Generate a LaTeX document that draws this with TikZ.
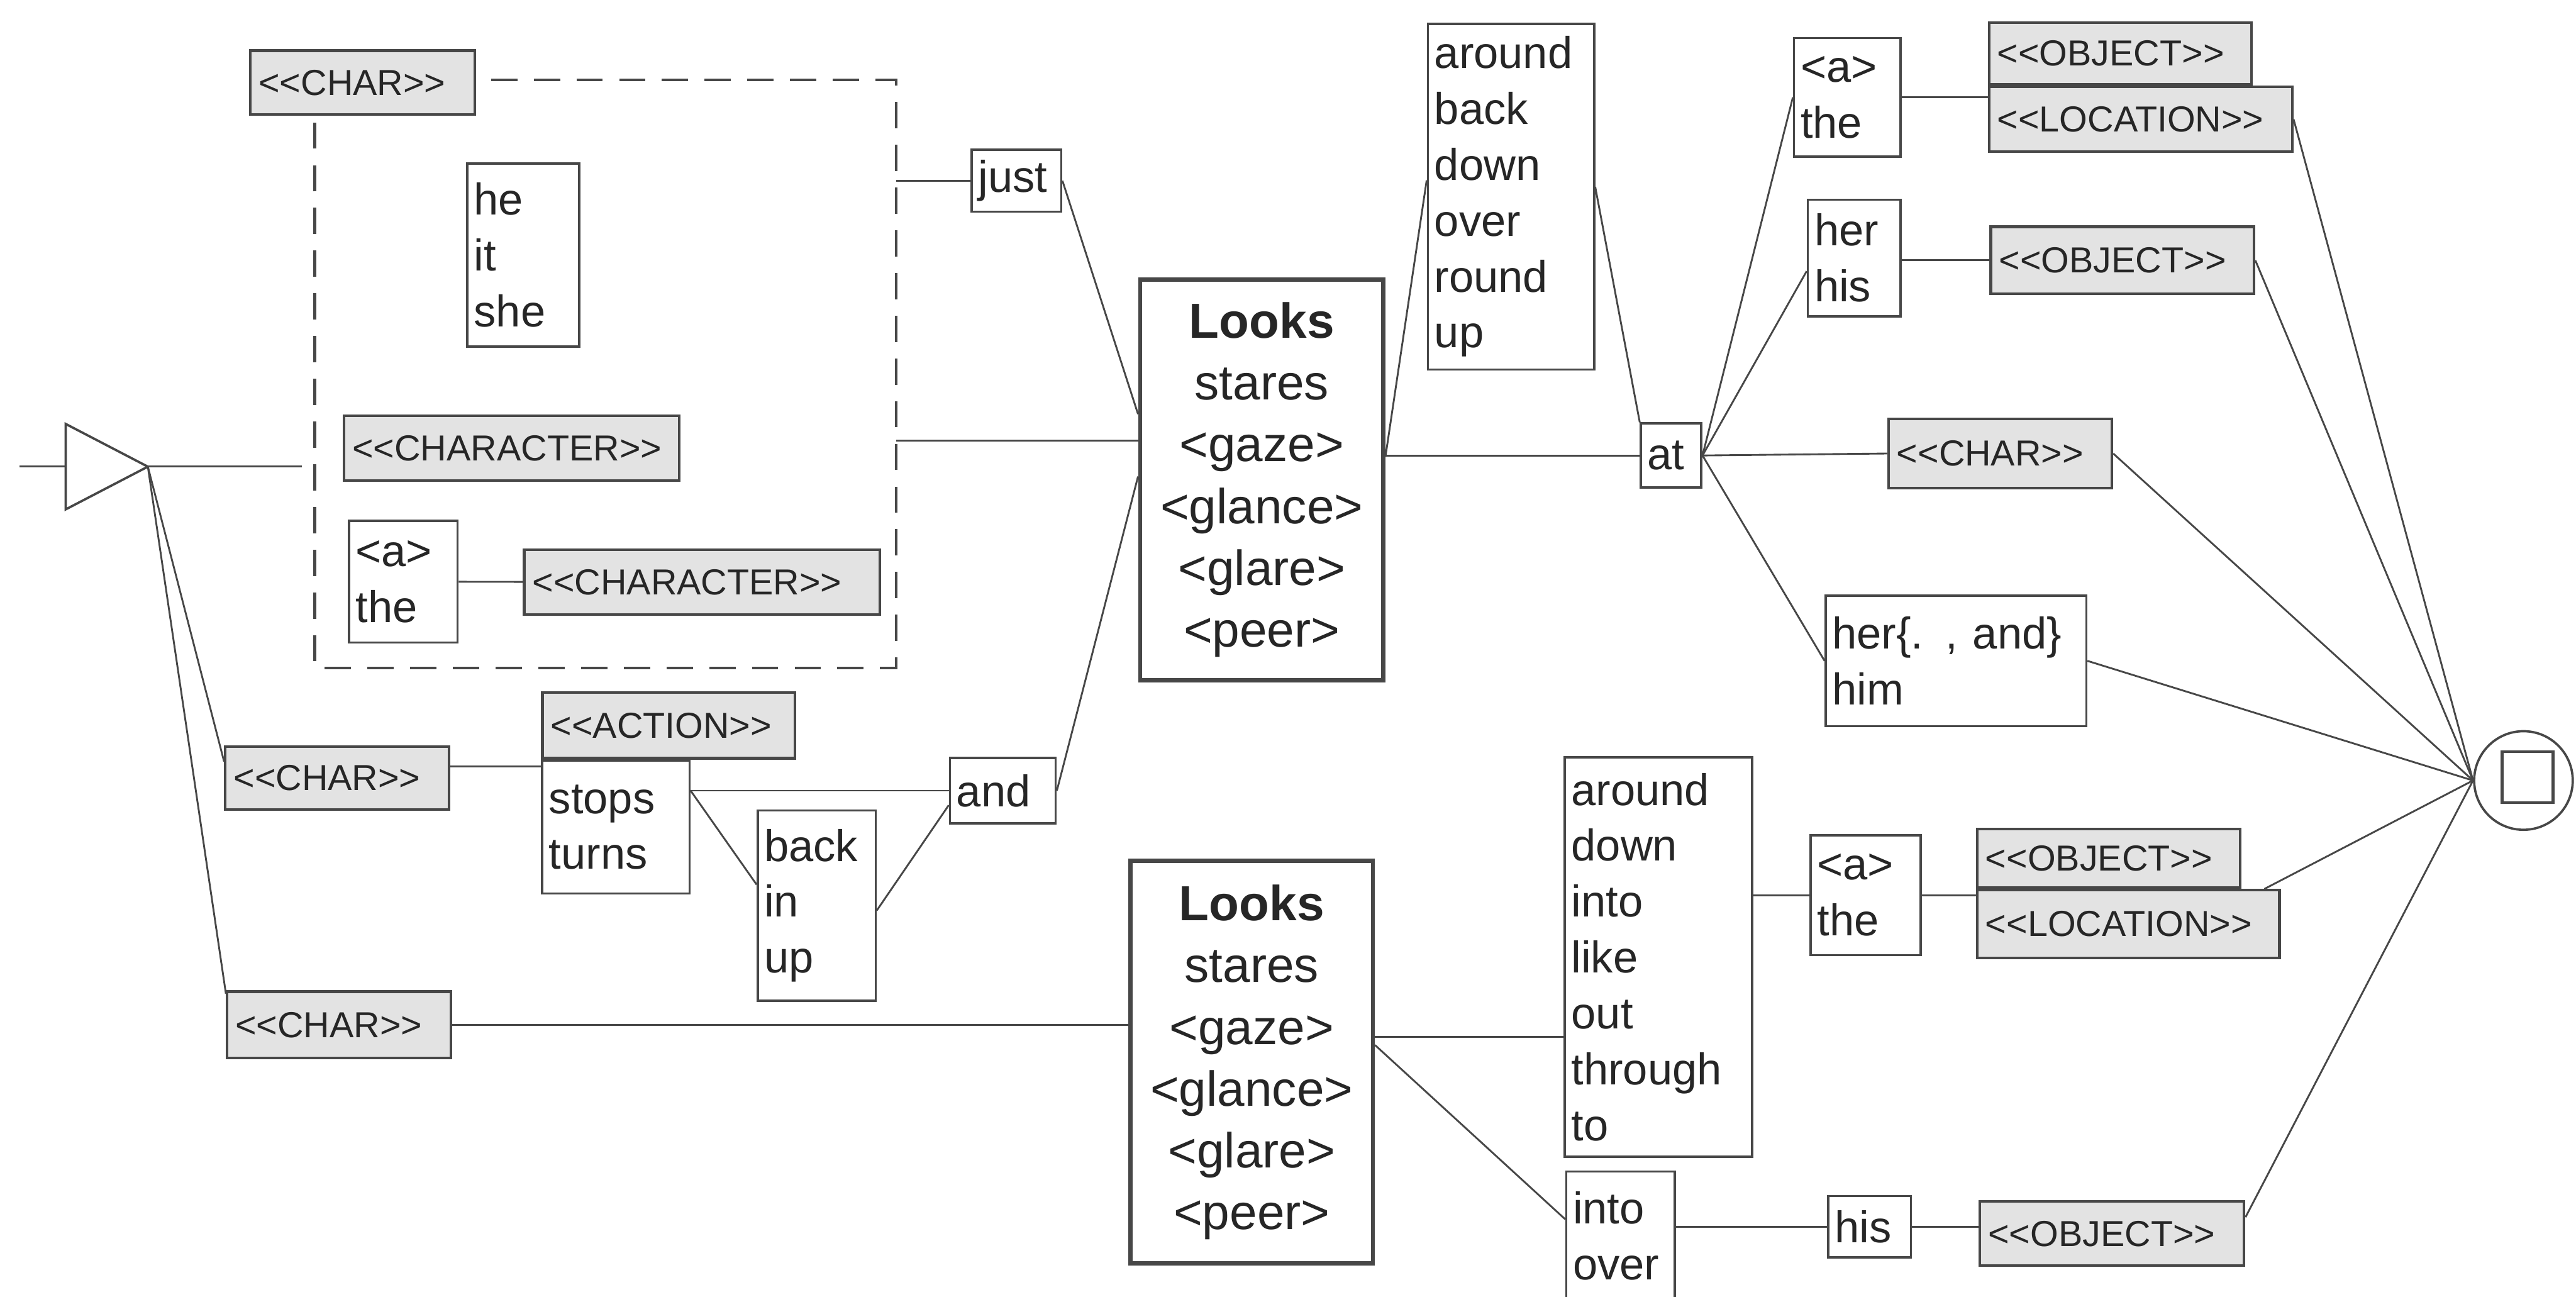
\documentclass[tikz,border=0pt]{standalone}
\usepackage{fontspec}
\setmainfont{Liberation Sans}
\usepackage{tikz}
\usetikzlibrary{positioning, calc}
\definecolor{grmfill}{HTML}{E3E3E3}
\definecolor{grmline}{HTML}{474747}
\definecolor{grmink}{HTML}{262626}
\newcommand{\ctag}[1]{<{}<#1>{}>}

\begin{document}
\begin{tikzpicture}[x=0.5pt, y=-0.5pt,
  wbox/.style={draw=grmline, line width=0.7pt, fill=white, align=left, inner xsep=2pt, inner ysep=0pt, text=grmink, font=\fontsize{13.5}{17}\selectfont},
  gbox/.style={draw=grmline, line width=0.8pt, fill=grmfill, align=left, inner xsep=2.5pt, inner ysep=0pt, text=grmink, font=\fontsize{11}{13}\selectfont},
  vbox/.style={draw=grmline, line width=1.3pt, fill=white, align=center, inner sep=0pt, text=grmink, font=\fontsize{15}{18.8}\selectfont},
  link/.style={draw=grmline, line width=0.55pt},
  grpline/.style={draw=grmline, line width=0.8pt, dash pattern=on 8pt off 5pt}]
  \useasboundingbox (0,0) rectangle (1568,789);
  \clip (0,0) rectangle (1568,789);
  % start triangle
  \coordinate (start) at (90,284);
  \coordinate (entry) at (12,284);
  \draw[link, line width=0.7pt, fill=white] (start) -- ++(-50,-26) -- ++(0,52) -- cycle;
  % subject group
  \node[minimum width=176.5pt, minimum height=178.5pt, inner sep=0pt] (grp) at (368.5,227.5) {};
  \node[gbox, text width=63.3pt, minimum height=19.5pt] (charA) at (220.8,50.3) {\ctag{CHAR}};
  \coordinate (grpgap) at ([xshift=4.5pt]charA.east);
  \draw[grpline] (grpgap |- grp.north) -- (grp.north east) -- (grp.south east) -- (grp.south west) -- (grp.west |- charA.south);
  \node[wbox, text width=30pt, minimum height=55.8pt] (pron) at (318.5,155.2) {he\\it\\she};
  \node[gbox, text width=97pt, minimum height=19.7pt] (chrA) at (311.5,272.7) {\ctag{CHARACTER}};
  \node[wbox, text width=29pt, minimum height=37pt] (artA) at (245.5,354) {<a>\\the};
  \node[gbox, text width=103.2pt, minimum height=19.7pt] (chrB) at (427.3,354.3) {\ctag{CHARACTER}};
  % action branch
  \node[gbox, text width=63.1pt, minimum height=19.2pt] (charB) at (205.3,473.5) {\ctag{CHAR}};
  \node[gbox, text width=71.8pt, minimum height=20pt] (act) at (407,441.5) {\ctag{ACTION}};
  \node[wbox, text width=40.8pt, minimum height=40.4pt, anchor=north west] (stops) at (act.south west) {stops\\turns};
  \node[wbox, text width=31.9pt, minimum height=57.9pt] (biu) at (497.1,551.1) {back\\in\\up};
  \node[wbox, text width=28.2pt, minimum height=19.8pt] (conj) at (610.4,481.2) {and};
  \node[wbox, text width=23.3pt, minimum height=18.8pt] (just) at (618.7,110) {just};
  \node[gbox, text width=63.1pt, minimum height=20.2pt] (charC) at (206.4,623.7) {\ctag{CHAR}};
  % verb boxes
  \node[vbox, minimum width=74pt, minimum height=122pt] (looks1) at (768,292) {\textbf{Looks}\\stares\\<gaze>\\<glance>\\<glare>\\<peer>};
  \node[vbox, minimum width=73.75pt, minimum height=122.5pt] (looks2) at (761.9,646.5) {\textbf{Looks}\\stares\\<gaze>\\<glance>\\<glare>\\<peer>};
  % particles
  \node[wbox, text width=46.6pt, minimum height=105.2pt] (partA) at (919.7,119.7) {around\\back\\down\\over\\round\\up};
  \node[wbox, text width=14.4pt, minimum height=19.5pt] (atw) at (1017.2,277.2) {at};
  \node[wbox, text width=53pt, minimum height=121.5pt] (partB) at (1009.5,582.4) {around\\down\\into\\like\\out\\through\\to};
  \node[wbox, text width=29pt, minimum height=39pt] (partC) at (986.4,752) {into\\over};
  % objects
  \node[wbox, text width=28.4pt, minimum height=36pt] (detA) at (1124.4,59.2) {<a>\\the};
  \node[gbox, text width=74.8pt, minimum height=18.8pt] (objA) at (1290.5,32.5) {\ctag{OBJECT}};
  \node[gbox, text width=87.3pt, minimum height=19.7pt, anchor=north west] (locA) at (objA.south west) {\ctag{LOCATION}};
  \node[wbox, text width=24.2pt, minimum height=35.5pt] (poss) at (1128.6,157) {her\\his};
  \node[gbox, text width=75.1pt, minimum height=20.4pt] (objB) at (1291.9,158.4) {\ctag{OBJECT}};
  \node[gbox, text width=63pt, minimum height=21pt] (charD) at (1217.5,276) {\ctag{CHAR}};
  \node[wbox, text width=75.3pt, minimum height=39.75pt] (pron2) at (1190.6,402.2) {her\{. , and\}\\him};
  \node[wbox, text width=29.5pt, minimum height=36.5pt] (detB) at (1135.6,544.8) {<a>\\the};
  \node[gbox, text width=75.1pt, minimum height=17.9pt] (objC) at (1283.6,522.3) {\ctag{OBJECT}};
  \node[gbox, text width=87pt, minimum height=20.6pt, anchor=north west] (locB) at (objC.south west) {\ctag{LOCATION}};
  \node[wbox, text width=21.1pt, minimum height=18.65pt] (his) at (1138,746.5) {his};
  \node[gbox, text width=75.4pt, minimum height=19.5pt] (objD) at (1285.6,750.8) {\ctag{OBJECT}};
  % end state
  \node[circle, draw=grmline, line width=0.7pt, minimum size=30pt, inner sep=0pt] (fin) at (1536,475) {};
  \node[draw=grmline, line width=0.8pt, minimum size=15.5pt, inner sep=0pt] (finbox) at (1538.5,473) {};
  % connectors
  \coordinate (grpin) at ([xshift=-4pt]grp.west);
  \draw[link] (entry) -- ([xshift=-25pt]start);
  \draw[link] (start) -- (grpin |- start);
  \draw[link] (start) -- ([yshift=5pt]charB.west);
  \draw[link] (start) -- ([yshift=-1pt]charC.north west);
  \draw[link] (artA) -- (chrB);
  \draw[link] (grp.east |- just.west) -- (just.west);
  \coordinate (lkA) at ([yshift=12pt]looks1.west);
  \draw[link] (grp.east |- lkA) -- (lkA);
  \draw[link] (just.east) -- ([yshift=20pt]looks1.west);
  \draw[link] (conj.east) -- ([yshift=1pt]looks1.west);
  \coordinate (cB) at ([yshift=3.5pt]charB.east);
  \draw[link] (cB) -- (cB -| stops.west);
  \draw[link] (stops.east |- conj.west) -- (conj.west);
  \draw[link] (stops.east |- conj.west) -- ([yshift=6.4pt]biu.west);
  \draw[link] ([yshift=-1.5pt]biu.east) -- ([yshift=-4.4pt]conj.west);
  \draw[link] (charC.east) -- (charC.east -| looks2.west);
  \draw[link] ([yshift=7pt]looks1.east) -- ([yshift=5pt]partA.west);
  \draw[link] (looks1.east |- atw.west) -- (atw.west);
  \draw[link] ([yshift=3pt]partA.east) -- (atw.north west);
  \draw[link] (atw.east) -- (detA.west);
  \draw[link] (atw.east) -- ([yshift=-4pt]poss.west);
  \draw[link] (atw.east) -- (charD.west);
  \draw[link] (atw.east) -- (pron2.west);
  \draw[link] (detA.east) -- (detA.east -| locA.west);
  \draw[link] (poss.east |- objB.west) -- (objB.west);
  \coordinate (lkB) at ([yshift=7.75pt]looks2.east);
  \draw[link] (lkB) -- (lkB -| partB.west);
  \draw[link] ([yshift=5.25pt]looks2.east) -- ([yshift=5pt]partC.west);
  \draw[link] (partB.east |- detB.west) -- (detB.west);
  \draw[link] (detB.east) -- (detB.east -| locB.west);
  \draw[link] (partC.east |- his.west) -- (his.west);
  \draw[link] (his.east) -- (his.east -| objD.west);
  % into the end state
  \foreach \s in {locA.east, objB.east, charD.east, pron2.east}
    \draw[link] (\s) -- (fin.west);
  \draw[link] ([xshift=-5pt]locB.north east) -- (fin.west);
  \draw[link] ([yshift=5pt]objD.east) -- (fin.west);
\end{tikzpicture}
\end{document}
